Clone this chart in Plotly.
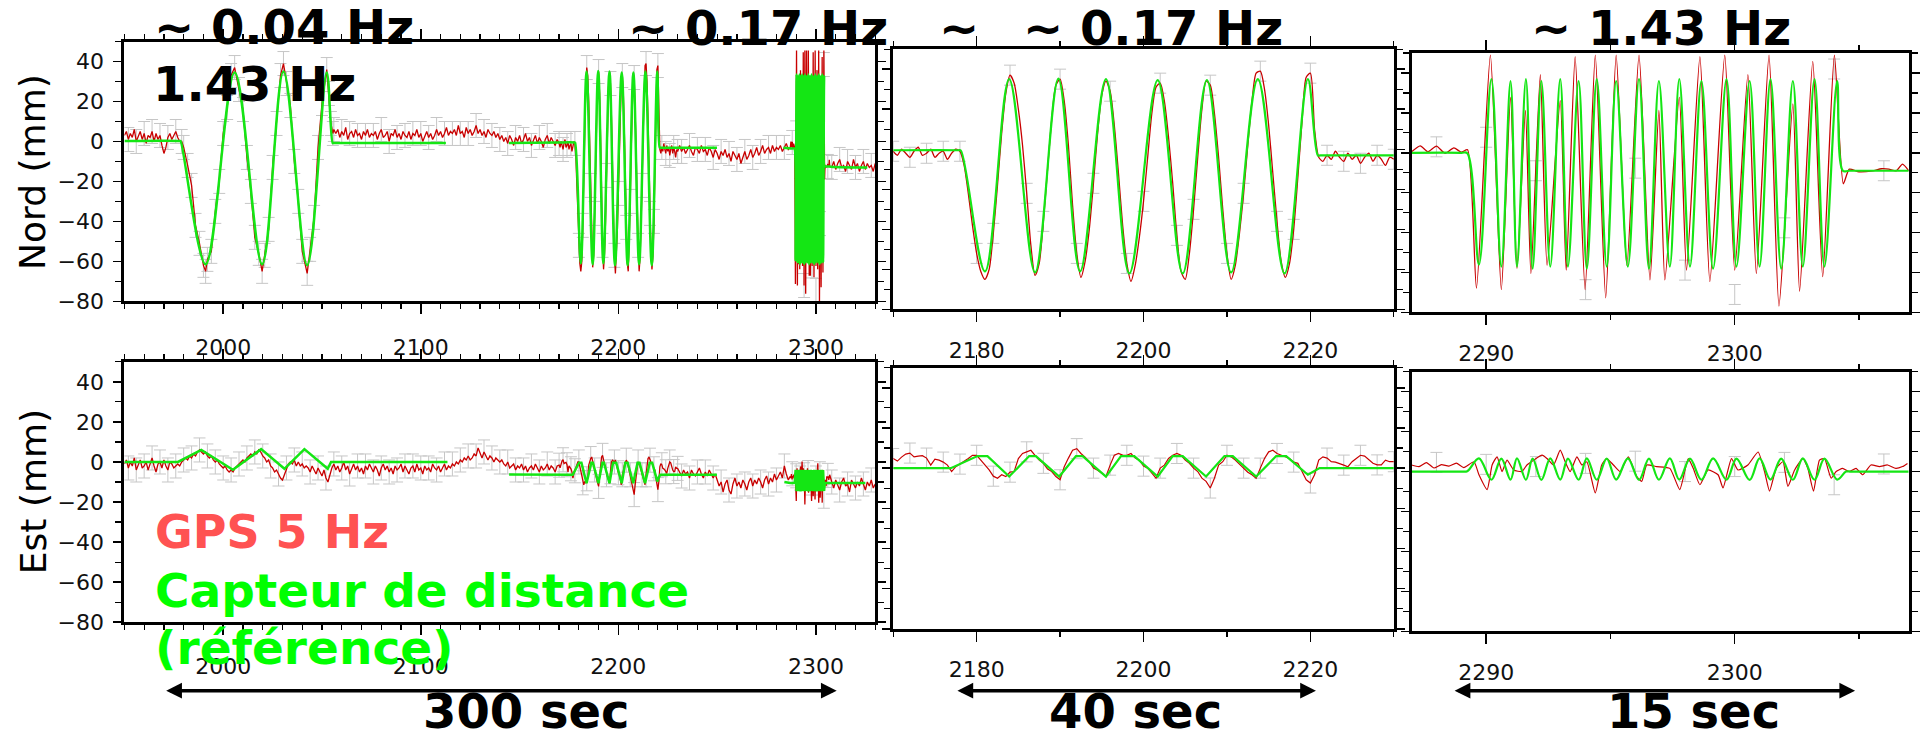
import numpy as np
import plotly.graph_objects as go

W, H = 1920, 741

# =====================================================================
# DATA (mm, time in s)
# =====================================================================

# ---------------- NORD component ----------------
# GPS 5 Hz, overview quiet parts, one value per second
nord_gps_q1_start = 1950
nord_gps_q1 = [3, 5, 1, 4, 2, 6, 0, 3, 5, 1, 4, -1, 3, 2, 5, 0, 4, 1, 3, -2,
               -6, -3, 2, 4, 1, 3, 5, 2, 0]
# GPS during the ~0.04 Hz motion
nord_gps_o1_t = [1979, 1980, 1982, 1984, 1986, 1988, 1990, 1991.1, 1992, 1994,
                 1996, 1998, 2000, 2002, 2004, 2005.8, 2008, 2010, 2012, 2014,
                 2016, 2018, 2019.7, 2021, 2023, 2025, 2027, 2029, 2030.5, 2032,
                 2034, 2036, 2038, 2040, 2042.5, 2044, 2046, 2048, 2050, 2052.4,
                 2053.5, 2054.5, 2055.5, 2056]
nord_gps_o1_v = [0, -3, -12, -22, -42, -51, -62, -65, -59, -55,
                 -35, -20, 4, 17, 33, 37, 26, 16, -8, -25,
                 -48, -56, -65, -57, -44, -13, 9, 33, 39, 29,
                 18, -10, -30, -55, -66, -54, -38, -3, 19, 36,
                 24, 9, 4, 6]
nord_gps_q2_start = 2057
nord_gps_q2 = [4, 6, 2, 5, 3, 7, 1, 4, 5, 2, 6, 3, 4, 1, 5, 3, 6, 2, 4, 3,
               5, 1, 4, 6, 2, 3, 5, 0, 4, 3, 6, 2, 4, 1, 5, 3, 2, 5, 1, 4,
               3, 6, 2, 4, 0, 3, 5, 2, 4, 1, 3, 6, 3, 5, 2, 4, 7, 3, 5, 4,
               6, 3, 8, 4, 5, 2, 7, 4, 6, 3, 5, 8, 4, 6, 3, 5, 2, 6, 4, 3,
               5, 2, 4, 1, 3, 0, 2, -1, 3, 1, -2, 2, 0, 3, -1, 1, 4, 0, 2, -2,
               1, 3, -1, 2, 0, -3, 1, 3, -1, 2, 0, -2, 1]
nord_gps_q3_start = 2231
nord_gps_q3 = [-2, -5, -3, -6, -4, -2, -5, -7, -3, -4,
               -6, -2, -5, -4, -7, -3, -5, -8, -4, -6, -9, -5, -7, -4, -8, -6, -10, -5, -7, -9,
               -6, -11, -8, -5, -9, -7, -4, -8, -6, -3, -7, -5, -2, -6, -4, -3, -6, -2, -5, -3,
               -4, -2, -5, -3, -1, -4]
nord_gps_q4_start = 2308
nord_gps_q4 = [-13, -10, -14, -11, -9, -13, -12, -15, -10, -12, -14, -9, -13, -11, -15,
               -12, -10, -14, -11, -13, -12, -15, -11]
# zoom window A (~0.17 Hz), GPS every 0.5 s
nordA_gps_start = 2170
nordA_gps = [-1, -3, 0, -2, -4, -1, 1, -3, -2, 0,
             -4, -2, -1, -5, -2, 0,
             -1, -8, -22, -38, -52, -61, -65, -60, -42, -18,
             8, 28, 37, 33, 20, 2, -22, -48, -63, -57,
             -36, -10, 15, 32, 35, 24, 2, -28, -52, -64,
             -56, -40, -17, 8, 27, 34, 29, 12, -12, -38,
             -57, -66, -58, -44, -26, -4, 18, 31, 33, 24,
             6, -17, -43, -61, -65, -52, -30, -4, 20, 34,
             32, 18, -4, -30, -52, -65, -58, -42, -22, 2,
             24, 38, 39, 30, 12, -12, -36, -56, -64, -57,
             -40, -14, 14, 36, 38, 10, -4,
             -6, -3, -5, -1, -4, -6, -2, -5, -3, -7,
             -4, -2, -6, -3, -5, -8, -4, -5]
# zoom window B (~1.43 Hz), GPS turning points
nordB_gps_t = [2287.0, 2287.35, 2287.65, 2288.0, 2288.35, 2288.7, 2289.0, 2289.25,
               2289.61, 2290.17, 2290.61, 2290.98, 2291.24, 2291.58, 2291.80, 2292.18,
               2292.45, 2292.98, 2293.22, 2293.58, 2293.98, 2294.39, 2294.81, 2295.23,
               2295.66, 2296.15, 2296.59, 2296.95, 2297.19, 2297.77, 2298.06, 2298.60,
               2299.00, 2299.60, 2300.00, 2300.53, 2300.87, 2301.38, 2301.78, 2302.34,
               2302.61, 2303.14, 2303.54, 2304.01,
               2304.37, 2304.61, 2305.0, 2305.55, 2305.9, 2306.2, 2306.5, 2306.75, 2307.0]
nordB_gps_v = [0.5, 3.5, 0.5, 3.3, -0.3, 2.5, 0.3, 1.5,
               -67.8, 49.0, -68.6, 27.8, -58.0, 21.2, -60.5, 39.2,
               -56.4, 26.1, -58.8, 48.2, -68.6, 49.0, -72.7, 49.0,
               -56.4, 49.0, -63.7, 21.2, -63.7, 27.8, -58.8, 48.2,
               -64.5, 49.0, -58.8, 39.2, -60.5, 49.0, -76.8, 24.5,
               -69.4, 45.8, -62.1, 49.0,
               -15.5, -8.2, -9.5, -9.0, -8.0, -8.2, -9.0, -5.7, -9.0]
nordB_err_t = [2288, 2290, 2292, 2294, 2296, 2298, 2300, 2302, 2304, 2306]
nordB_err_v = [3.0, 7.8, -9.0, -68.6, -7.7, -58.8, -71.0, -37.6, 42.0, -9.0]

# reference (distance sensor)
nord_ref_pre_t = [1950, 1978.2, 1978.5, 1991.1, 2005.8, 2019.7, 2030.5, 2042.5, 2052.4,
                  2055.4, 2055.8, 2112.7, None, 2144.6, 2169.8]
nord_ref_pre_v = [0.2, 0.2, 0.1, -61.5, 34.5, -61.5, 35, -62, 34.5,
                  -0.8, -0.8, -0.8, None, -0.8, -0.5]
nordA_ref_t = [2170, 2177.8, 2178.1, 2181.0, 2183.9, 2187.0, 2189.8, 2192.4, 2195.5, 2198.3,
               2201.7, 2204.7, 2207.6, 2210.5, 2213.7, 2216.9, 2219.7, 2220.9, 2221.2, 2230]
nordA_ref_v = [-0.5, -0.5, -0.6, -61, 35, -61.5, 35.3, -61, 35, -62,
               34.5, -62, 34.5, -61.5, 35, -62, 35, -3.1, -3.1, -3.1]
nord_ref_mid_t = [2230.3, 2249.9, None, 2283.5, 2286.8]
nord_ref_mid_v = [-3.1, -3.1, None, -3.1, -3.4]
# turning-point times of the 1.43 Hz motion (shared by both components)
blk_ref_t = [2289.71, 2290.21, 2290.61, 2290.98, 2291.24, 2291.60, 2291.87, 2292.22,
             2292.58, 2292.98, 2293.29, 2293.72, 2294.05, 2294.45, 2294.85, 2295.23,
             2295.70, 2296.15, 2296.55, 2296.95, 2297.39, 2297.77, 2298.20, 2298.66,
             2299.13, 2299.67, 2300.07, 2300.60, 2301.00, 2301.44, 2301.87, 2302.34,
             2302.74, 2303.21, 2303.61, 2304.12]
nordB_ref_t = [2287.0, 2289.0, 2289.24] + blk_ref_t + [2304.35, 2304.6, 2307.0]
nordB_ref_v = [0, 0, -0.2,
               -56, 37, -57, 36, -57, 37, -58, 36, -57, 37, -57, 36, -58, 37, -57, 36,
               -57, 37, -58, 36, -57, 37, -57, 36, -58, 37, -57, 36, -57, 37, -58, 36,
               -57, 37, -57, 36,
               -9, -9, -9]
nord_ref_post_t = [2307.3, 2326.0]
nord_ref_post_v = [-12.6, -13.0]
NORD_A_OFFSET = 0.0
NORD_B_OFFSET = -3.5

# ---------------- EST component ----------------
est_gps_q1_start = 1950
est_gps_q1 = ([-1, 1, -3, 0, -2, 2, -4, -1, 1, -3, -2, 0, -4, -1, 2, -2, -5, -1, 0, -3,
               1, -2, -4, 0, -1, -3, -2]
              + [-1, -2, 0, 1, 2, 1, 3, 2, 4, 3, 5, 6, 5]
              + [4, 5, 3, 2, 3, 1, 0, 1, -1, -2, -3, -2, -4, -5, -4]
              + [-5, -3, -2, -1, 0, 1, 0, 2, 3, 4, 3, 5, 4, 6]
              + [5, 3, 2, 0, 1, -2, -3, -5, -4, -6, -8, -9]
              + [-6, -3, -1, 0, -1, 1, -2, 0, -2, -1, -3, -2]
              + [-3, -5, -2, -4, -6, -3, -5, -7, -4, -8, -10, -6]
              + [-3, -1, -4, -2, -5, -3, 0, -4, -2, -6, -3, -1, -4, -2, -5, -3, -6, -2, -4, -1,
                 -3, -5, -2, -4, -7, -3, -1, -4, -2, -5, -3, -6, -2, -4, -3, -1, -5, -2, -4, -6,
                 -3, -2, -5, -1, -4, -3, -6, -2, -4, -3, -5, -1, -3, -4, -2, -5, -3, -1, -4]
              + [-2, -3, -1, -2, 0, -1, 1, 0, 2, 1, 3, 1, 2, 4, 3, 7, 4, 2, 5, 3, 1, 3, 2, 0, 2, 1]
              + [0, 1, -1, -2, 0, -3, -2, -1, -4, -2, -3, -1, -4, -2, -5, -3, -2, -4, -1, -3,
                 -5, -2, -4, -3, -1, -4, -2, -3, -5, -2])
est_gps_q3_start = 2231
est_gps_q3 = [-5, -7, -4, -6, -5, -8, -4, -6, -7, -5, -3, -6, -8, -5, -7, -4, -6, -8, -6,
              -9, -12, -10, -15, -11, -9, -14, -16, -11, -8, -12, -10, -13, -9, -11, -14, -10, -8, -12, -9,
              -11, -8, -10, -13, -9, -7, -11, -8, -10, -6, -9, -7, -5, -8, -2, -6, -9]
est_gps_q4_start = 2308
est_gps_q4 = [-10, -13, -9, -12, -14, -10, -8, -12, -11, -15, -9, -11, -13, -10, -12, -8,
              -11, -14, -10, -12, -9, -13, -11]
estA_gps_start = 2170
estA_gps = [4.8, 3.5, 5.5, 7.0, 7.5, 5.6, 6.0, 6.2, 5.0, 1.5,
            4.5, 4.0, 3.0, 1.5, -1.7, 0.7, 2.0, 3.2, 4.8, 6.4,
            6.4, 4.0, 1.5, -0.9, -4.0, -5.0, -3.3, -4.2, -2.0, -1.7,
            4.8, 7.3, 8.1, 8.9, 6.4, 4.0, 2.4, -0.5, -1.7, -4.2,
            -5.8, 0.7, 5.0, 8.9, 9.7, 7.3, 5.5, 3.2, 0.0, -1.0,
            -2.5, -4.2, 1.5, 6.4, 7.3, 6.5, 6.4, 7.3, 5.0, 4.0,
            1.0, 0.0, -2.5, -5.0, 0.0, 1.5, 4.8, 6.4, 7.3, 6.4,
            4.0, 2.4, 0.0, -1.7, -5.0, -6.6, -9.9, -5.0, 1.5, 3.2,
            6.4, 5.6, 4.0, 2.0, 0.0, -2.0, -3.3, -5.0, 0.0, 4.8,
            8.1, 8.9, 7.3, 6.4, 5.5, 4.8, 3.0, 2.4, -1.7, -5.8,
            -7.4, -3.3, 4.0, 5.6, 5.0, 3.2, 3.0, 2.4, 1.5, 0.7,
            3.2, 4.8, 6.4, 6.0, 4.0, 2.4, 1.6, 1.6, 4.0, 3.2,
            3.2]
estB_gps_t = [2287.0, 2287.3, 2287.6, 2287.9, 2288.2, 2288.5, 2288.8, 2289.1,
              2289.51, 2289.71, 2290.04, 2290.24, 2290.44, 2290.64, 2290.84, 2291.11, 2291.44, 2291.64,
              2291.91, 2292.25, 2292.45, 2292.71, 2292.98, 2293.18, 2293.38, 2293.65, 2293.85, 2294.05,
              2294.39, 2294.65, 2294.85, 2295.12, 2295.39, 2295.72, 2296.06, 2296.26, 2296.46, 2296.86,
              2297.39, 2297.79, 2298.13, 2298.33, 2298.60, 2298.93, 2299.33, 2299.53, 2299.87, 2300.13,
              2300.53, 2300.94, 2301.20, 2301.40, 2301.67, 2301.94, 2302.14, 2302.41, 2302.74, 2302.94,
              2303.17, 2303.41, 2303.61, 2303.88, 2304.08, 2304.34, 2304.61, 2304.88, 2305.15, 2305.48,
              2305.82, 2306.15, 2306.48, 2306.75, 2306.95]
estB_gps_v = [3.3, 2.5, 4.5, 1.8, 3.5, 2.7, 4.2, 2.0,
              4.9, -1.6, -9.0, 3.3, 7.4, 0.0, 5.7, 0.8, 0.0, 3.3,
              5.7, 8.2, 6.5, 3.3, 10.7, 4.9, 0.0, 7.4, 3.3, 4.9,
              -10.7, 3.3, 6.5, 3.3, 0.0, 7.4, -2.5, -4.9, 3.3, 2.5,
              1.6, -9.0, 6.5, 1.6, -6.6, 0.8, -1.6, -8.2, 6.5, 0.8,
              3.3, 9.8, 0.0, -9.8, 1.6, 4.9, -7.4, 0.8, 6.5, 1.6,
              -9.8, 5.7, 6.5, -3.3, 0.0, 1.6, 0.0, 1.6, -1.6, 3.3,
              2.5, 3.3, 1.6, 2.5, 4.1]
estB_err_t = [2288, 2290, 2292, 2294, 2296, 2298, 2300, 2302, 2304, 2306]
estB_err_v = [4.6, 3.6, 2.5, 4.1, 5.2, 0.0, 2.5, 4.6, -6.6, 3.8]

est_ref_pre_t = [1950, 1977.1, 1988.9, 2004.9, 2019.2, 2031.0, 2041.1, 2052.9, 2054.6, 2113.5,
                 None, 2144.7, 2169.8]
est_ref_pre_v = [0, 0, 6, -3.9, 6.4, -3.4, 6.4, -3.4, 0, 0, None, -6.3, -6.4]
estA_ref_t = [2170, 2176.9, 2180.1, 2181.3, 2183.9, 2186.3, 2187.1, 2189.9, 2191.9, 2192.7,
              2195.5, 2197.3, 2198.9, 2201.7, 2203.5, 2204.7, 2207.5, 2209.7, 2210.7, 2213.5,
              2215.9, 2217.1, 2219.7, 2221.1, 2230]
estA_ref_v = [0, 0, 6, 6, -4.2, 6, 6, -4.2, 6, 6,
              -4.2, 6, 6, -4.2, 6, 6, -4.2, 6, 6, -4.2,
              6, 6, -3.3, 0, 0]
est_ref_mid_t = [2230.3, 2249.9, None, 2284.0, 2286.8]
est_ref_mid_v = [-6.4, -6.4, None, -10.0, -10.5]
estB_ref_t = [2287.0, 2289.0, 2289.24] + blk_ref_t + [2304.48, 2304.7, 2307.0]
estB_ref_v = [0, 0, 0.2,
              6.6, -4.1, 6.5, -4.0, 6.6, -4.1, 6.5, -4.2, 6.6, -4.0, 6.5, -4.1,
              6.6, -4.1, 6.5, -4.0, 6.6, -4.2, 6.5, -4.1, 6.6, -4.0, 6.5, -4.1,
              6.6, -4.1, 6.5, -4.2, 6.6, -4.0, 6.5, -4.1, 6.6, -4.1, 6.5, -4.0,
              0, 0, 0]
est_ref_post_t = [2307.3, 2325.0]
est_ref_post_v = [-10.3, -10.5]
EST_A_OFFSET = -6.4
EST_B_OFFSET = -10.5

# =====================================================================
# helpers
# =====================================================================
def times(start, step, vals):
    return list(start + step * np.arange(len(vals)))

def shift(vals, off):
    return [None if v is None else v + off for v in vals]

def every(ts, vs, k):
    sel = [(t, v) for t, v in zip(ts, vs) if abs(t / k - round(t / k)) < 1e-6]
    return [s[0] for s in sel], [s[1] for s in sel]

nord_q1_t = times(nord_gps_q1_start, 1, nord_gps_q1)
nord_q2_t = times(nord_gps_q2_start, 1, nord_gps_q2)
nord_q3_t = times(nord_gps_q3_start, 1, nord_gps_q3)
nord_q4_t = times(nord_gps_q4_start, 1, nord_gps_q4)
nordA_t = times(nordA_gps_start, 0.5, nordA_gps)
est_q1_t = times(est_gps_q1_start, 1, est_gps_q1)
est_q3_t = times(est_gps_q3_start, 1, est_gps_q3)
est_q4_t = times(est_gps_q4_start, 1, est_gps_q4)
estA_t = times(estA_gps_start, 0.5, estA_gps)

# overview series
nord_ov_gps_t = nord_q1_t + nord_gps_o1_t + nord_q2_t + nordA_t + nord_q3_t + nordB_gps_t + nord_q4_t
nord_ov_gps_v = (nord_gps_q1 + nord_gps_o1_v + nord_gps_q2 + shift(nordA_gps, NORD_A_OFFSET)
                 + nord_gps_q3 + shift(nordB_gps_v, NORD_B_OFFSET) + nord_gps_q4)
nord_ov_ref_t = nord_ref_pre_t + nordA_ref_t + nord_ref_mid_t + nordB_ref_t + nord_ref_post_t
nord_ov_ref_v = (nord_ref_pre_v + shift(nordA_ref_v, NORD_A_OFFSET) + nord_ref_mid_v
                 + shift(nordB_ref_v, NORD_B_OFFSET) + nord_ref_post_v)

est_ov_gps_t = est_q1_t + estA_t + est_q3_t + estB_gps_t + est_q4_t
est_ov_gps_v = (est_gps_q1 + shift(estA_gps, EST_A_OFFSET) + est_gps_q3
                + shift(estB_gps_v, EST_B_OFFSET) + est_gps_q4)
est_ov_ref_t = est_ref_pre_t + estA_ref_t + est_ref_mid_t + estB_ref_t + est_ref_post_t
est_ov_ref_v = (est_ref_pre_v + shift(estA_ref_v, EST_A_OFFSET) + est_ref_mid_v
                + shift(estB_ref_v, EST_B_OFFSET) + est_ref_post_v)

# error-bar positions
def overview_err(q_list, extra_t, extra_v):
    et, ev = [], []
    for ts, vs in q_list:
        a, b = every(ts, vs, 4)
        et += a
        ev += b
    return et + extra_t, ev + extra_v

nA_et, nA_ev = every(nordA_t, nordA_gps, 2)
eA_et, eA_ev = every(estA_t, estA_gps, 2)
nord_ov_err_t, nord_ov_err_v = overview_err(
    [(nord_q1_t, nord_gps_q1), (nord_q2_t, nord_gps_q2), (nord_q3_t, nord_gps_q3), (nord_q4_t, nord_gps_q4)],
    nord_gps_o1_t + nA_et + nordB_err_t,
    nord_gps_o1_v + shift(nA_ev, NORD_A_OFFSET) + shift(nordB_err_v, NORD_B_OFFSET))
est_ov_err_t, est_ov_err_v = overview_err(
    [(est_q1_t, est_gps_q1), (est_q3_t, est_gps_q3), (est_q4_t, est_gps_q4)],
    eA_et + estB_err_t,
    shift(eA_ev, EST_A_OFFSET) + shift(estB_err_v, EST_B_OFFSET))

# =====================================================================
# FIGURE
# =====================================================================
RED = '#c80000'
GREEN = '#14e614'
GRAY = '#c6c6c6'

fig = go.Figure()

def err_tr(t, v, n, val):
    fig.add_trace(go.Scatter(x=t, y=v, mode='markers', xaxis='x' + n, yaxis='y' + n,
                             marker=dict(size=1, color='rgba(0,0,0,0)'),
                             error_y=dict(type='constant', value=val, color=GRAY, thickness=1, width=6),
                             hoverinfo='skip', showlegend=False))

def line_tr(t, v, n, color, width, shape='linear', smoothing=1.0):
    line = dict(color=color, width=width, shape=shape)
    if shape == 'spline':
        line['smoothing'] = smoothing
    fig.add_trace(go.Scatter(x=t, y=v, mode='lines', xaxis='x' + n, yaxis='y' + n,
                             line=line, connectgaps=False, hoverinfo='skip', showlegend=False))

# panel 1 : Nord overview
err_tr(nord_ov_err_t, nord_ov_err_v, '', 6)
line_tr(nord_ov_gps_t, nord_ov_gps_v, '', RED, 1.3)
line_tr(nord_ov_ref_t, nord_ov_ref_v, '', GREEN, 2.5, 'spline', 1.0)
# panel 2 : Nord 0.17 Hz zoom
err_tr(nA_et, nA_ev, '2', 5)
line_tr(nordA_t, nordA_gps, '2', RED, 1.3, 'spline', 0.7)
line_tr(nordA_ref_t, nordA_ref_v, '2', GREEN, 2.2, 'spline', 1.0)
# panel 3 : Nord 1.43 Hz zoom
err_tr(nordB_err_t, nordB_err_v, '3', 5)
line_tr(nordB_gps_t, nordB_gps_v, '3', RED, 1.3, 'spline', 0.6)
line_tr(nordB_ref_t, nordB_ref_v, '3', GREEN, 2.2, 'spline', 1.0)
# panel 4 : Est overview
err_tr(est_ov_err_t, est_ov_err_v, '4', 6)
line_tr(est_ov_gps_t, est_ov_gps_v, '4', RED, 1.3)
line_tr(est_ov_ref_t, est_ov_ref_v, '4', GREEN, 2.5)
# panel 5 : Est 0.17 Hz zoom
err_tr(eA_et, eA_ev, '5', 5)
line_tr(estA_t, estA_gps, '5', RED, 1.2)
line_tr(estA_ref_t, estA_ref_v, '5', GREEN, 2.2)
# panel 6 : Est 1.43 Hz zoom
err_tr(estB_err_t, estB_err_v, '6', 5)
line_tr(estB_gps_t, estB_gps_v, '6', RED, 1.2, 'spline', 0.5)
line_tr(estB_ref_t, estB_ref_v, '6', GREEN, 2.2, 'spline', 1.0)

# ---------------- axes ----------------
TICKFONT = dict(family='DejaVu Sans', size=22, color='#111111')

def xdom(x0, x1):
    return [x0 / W, x1 / W]

def ydom(y0, y1):
    return [1 - y1 / H, 1 - y0 / H]

def xaxis(dom, rng, dtick, mdtick, anchor, standoff):
    return dict(domain=dom, range=rng, anchor=anchor, showline=True, linecolor='black', linewidth=3,
                mirror='allticks', ticks='outside', ticklen=10, tickwidth=1.5, tickcolor='black',
                tick0=0, dtick=dtick,
                minor=dict(ticks='outside', ticklen=5, tickwidth=1.2, tickcolor='black', dtick=mdtick, tick0=0),
                showgrid=False, zeroline=False, tickfont=TICKFONT, ticklabelstandoff=standoff,
                fixedrange=True)

def yaxis(dom, anchor, labels):
    return dict(domain=dom, range=[-80, 50], anchor=anchor, showline=True, linecolor='black', linewidth=3,
                mirror='allticks', ticks='outside', ticklen=8, tickwidth=1.5, tickcolor='black',
                tick0=0, dtick=20,
                minor=dict(ticks='outside', ticklen=6, tickwidth=1.2, tickcolor='black', dtick=10, tick0=0),
                showgrid=False, zeroline=False, showticklabels=labels, tickfont=TICKFONT,
                ticklabelstandoff=5, fixedrange=True)

layout_axes = dict(
    xaxis=xaxis(xdom(124.6, 876.6), [1950, 2330], 100, 10, 'y', 14),
    yaxis=yaxis(ydom(42.3, 306.7), 'x', True),
    xaxis2=xaxis(xdom(894.6, 1396), [2170, 2230], 20, 10, 'y2', 9),
    yaxis2=yaxis(ydom(50, 315), 'x2', False),
    xaxis3=xaxis(xdom(1413.8, 1911.7), [2287, 2307], 10, 5, 'y3', 9),
    yaxis3=yaxis(ydom(54, 318), 'x3', False),
    xaxis4=xaxis(xdom(124.6, 876.6), [1950, 2330], 100, 10, 'y4', 12),
    yaxis4=yaxis(ydom(368.3, 633.3), 'x4', True),
    xaxis5=xaxis(xdom(894.6, 1396), [2170, 2230], 20, 10, 'y5', 9),
    yaxis5=yaxis(ydom(374.3, 640), 'x5', False),
    xaxis6=xaxis(xdom(1413.8, 1911.7), [2287, 2307], 10, 5, 'y6', 9),
    yaxis6=yaxis(ydom(378.3, 642.7), 'x6', False),
)

# ---------------- annotations ----------------
def ann(text, x, y, size=48, color='black', bold=True, xanchor='center', angle=0):
    return dict(text=text, x=x / W, y=1 - y / H, xref='paper', yref='paper', xanchor=xanchor,
                yanchor='middle', showarrow=False, textangle=angle,
                font=dict(family='DejaVu Sans', size=size, color=color,
                          weight='bold' if bold else 'normal'))

def arrow(x0, x1, y):
    return dict(text='', x=x1 / W, y=1 - y / H, xref='paper', yref='paper',
                ax=x0 - x1, ay=0, axref='pixel', ayref='pixel', showarrow=True,
                arrowhead=2, startarrowhead=2, arrowside='end+start', arrowsize=0.9,
                startarrowsize=0.9, arrowwidth=3.5, arrowcolor='black', font=dict(size=1))

annotations = [
    ann('~ 0.04 Hz', 284, 27),
    ann('~ 0.17 Hz', 759, 28),
    ann('~', 960, 28),
    ann('~ 0.17 Hz', 1155, 28),
    ann('~ 1.43 Hz', 1664, 28),
    ann('1.43 Hz', 255, 85),
    ann('GPS 5 Hz', 153, 542, size=46, color='#ff5252', xanchor='left'),
    ann('Capteur de distance', 153, 601, size=47, color='#00ff00', xanchor='left'),
    ann('(référence)', 153, 659, size=47, color='#00ff00', xanchor='left'),
    ann('Nord (mm)', 33, 175, size=36, bold=False, angle=-90),
    ann('Est (mm)', 33, 500, size=36, bold=False, angle=-90),
    ann('300 sec', 527, 724),
    ann('40 sec', 1137, 724),
    ann('15 sec', 1696, 724),
    arrow(166, 838, 703),
    arrow(958, 1318, 703),
    arrow(1456, 1858, 703),
]

fig.update_layout(width=W, height=H, autosize=False, margin=dict(l=0, r=0, t=0, b=0),
                  paper_bgcolor='white', plot_bgcolor='white', showlegend=False,
                  hovermode=False, annotations=annotations, **layout_axes)

fig.write_html("out.html", config={'displayModeBar': False, 'staticPlot': True},
               post_script="document.body.style.margin='0px';document.body.style.overflow='hidden';")
